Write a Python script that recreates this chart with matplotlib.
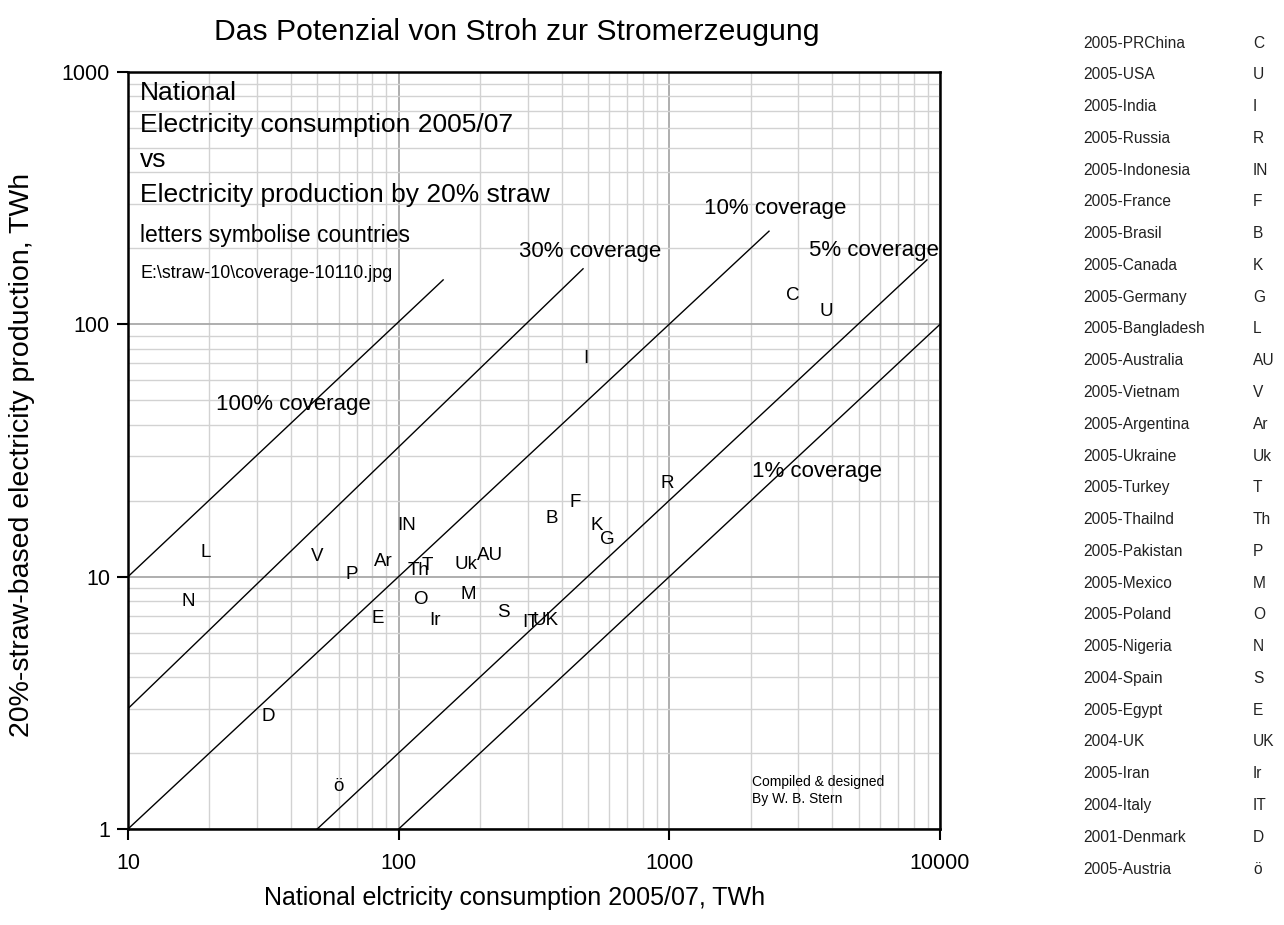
import matplotlib
matplotlib.use("Agg")
import matplotlib.pyplot as plt
from matplotlib.ticker import LogLocator, FixedLocator, FixedFormatter, NullFormatter

plt.rcParams['font.family'] = ['Liberation Sans', 'DejaVu Sans']

# ---- data ----
codes = ["C", "U", "I", "R", "IN", "F", "B", "K", "G", "L", "AU", "V", "Ar", "Uk",
         "T", "Th", "P", "M", "O", "N", "S", "E", "UK", "Ir", "IT", "D", "ö"]
countries = ["2005-PRChina", "2005-USA", "2005-India", "2005-Russia", "2005-Indonesia",
             "2005-France", "2005-Brasil", "2005-Canada", "2005-Germany", "2005-Bangladesh",
             "2005-Australia", "2005-Vietnam", "2005-Argentina", "2005-Ukraine", "2005-Turkey",
             "2005-Thailnd", "2005-Pakistan", "2005-Mexico", "2005-Poland", "2005-Nigeria",
             "2004-Spain", "2005-Egypt", "2004-UK", "2005-Iran", "2004-Italy",
             "2001-Denmark", "2005-Austria"]
table_codes = ["C", "U", "I", "R", "IN", "F", "B", "K", "G", "L", "AU", "V", "Ar", "Uk",
               "T", "Th", "P", "M", "O", "N", "S", "E", "UK", "Ir", "IT", "D", "ö"]
consumption = [2860, 3800, 490, 980, 107, 448, 369, 541, 589, 19.3, 217, 50, 88, 177,
               128, 118, 67, 180, 120, 16.7, 243, 84, 350, 136, 306, 33, 60]
straw_prod = [130, 112, 73, 23.3, 15.9, 19.6, 17.0, 16.0, 14.1, 12.5, 12.1, 12.0, 11.5, 11.2,
              11.1, 10.6, 10.2, 8.5, 8.1, 8.0, 7.2, 6.8, 6.7, 6.7, 6.6, 2.8, 1.47]

# coverage lines (end points)
cov_labels = ["100% coverage", "30% coverage", "10% coverage", "5% coverage", "1% coverage"]
cov_x0 = [10, 10, 10, 50, 100]
cov_y0 = [10, 3, 1, 1, 1]
cov_x1 = [146, 480, 2335, 8950, 10000]
cov_y1 = [150, 166, 234, 180, 100]
cov_label_x = [40.7, 509, 2457, 5705, 3513]
cov_label_y = [47.9, 195, 289, 197, 26.0]

xticks = [10, 100, 1000, 10000]
yticks = [1, 10, 100, 1000]

# ---- figure ----
W, H = 1284, 925
fig = plt.figure(figsize=(W / 100, H / 100), dpi=100)
ax = fig.add_axes([128 / W, 96 / H, 812 / W, 757 / H])
ax.set_xscale('log')
ax.set_yscale('log')
ax.set_xlim(10, 10000)
ax.set_ylim(1, 1000)

ax.xaxis.set_major_locator(FixedLocator(xticks))
ax.xaxis.set_major_formatter(FixedFormatter([str(v) for v in xticks]))
ax.yaxis.set_major_locator(FixedLocator(yticks))
ax.yaxis.set_major_formatter(FixedFormatter([str(v) for v in yticks]))
ax.xaxis.set_minor_locator(LogLocator(base=10, subs=range(2, 10)))
ax.yaxis.set_minor_locator(LogLocator(base=10, subs=range(2, 10)))
ax.xaxis.set_minor_formatter(NullFormatter())
ax.yaxis.set_minor_formatter(NullFormatter())
ax.tick_params(which='major', direction='out', length=8, width=1.5, labelsize=15.5, pad=5, colors='black')
ax.tick_params(axis='x', which='major', pad=9)
ax.tick_params(which='minor', length=0)
ax.grid(which='major', color='#a8a8a8', linewidth=1.3)
ax.grid(which='minor', color='#d2d2d2', linewidth=1.0)
ax.set_axisbelow(True)
for s in ax.spines.values():
    s.set_linewidth(1.8)
    s.set_color('black')

for x0, y0, x1, y1, lab, lx, ly in zip(cov_x0, cov_y0, cov_x1, cov_y1, cov_labels,
                                       cov_label_x, cov_label_y):
    ax.plot([x0, x1], [y0, y1], color='black', linewidth=1.0)
    ax.text(lx, ly, lab, fontsize=16, ha='center', va='center', color='black')

# country letters
for c, x, y in zip(codes, consumption, straw_prod):
    ax.text(x, y, c, fontsize=13.5, ha='center', va='center', color='black')

# info block
info = [("National", 19, 93), ("Electricity consumption 2005/07", 19, 125), ("vs", 19, 160),
        ("Electricity production by 20% straw", 19, 195), ("letters symbolise countries", 16.5, 235),
        ("E:\\straw-10\\coverage-10110.jpg", 12.9, 273)]
for t, fs, py in info:
    fig.text(140 / W, 1 - py / H, t, fontsize=fs, ha='left', va='center')

fig.text(752 / W, 1 - 782 / H, "Compiled & designed", fontsize=10, ha='left', va='center')
fig.text(752 / W, 1 - 799 / H, "By W. B. Stern", fontsize=10, ha='left', va='center')

# titles
fig.text(517 / W, 1 - 32 / H, "Das Potenzial von Stroh zur Stromerzeugung", fontsize=21.7,
         ha='center', va='center')
fig.text(515 / W, 1 - 898 / H, "National elctricity consumption 2005/07, TWh", fontsize=18,
         ha='center', va='center')
fig.text(22 / W, 1 - 455 / H, "20%-straw-based electricity production, TWh", fontsize=20.5,
         ha='center', va='center', rotation=90)

# side table
for i, (name, code) in enumerate(zip(countries, table_codes)):
    py = 43 + i * 31.77
    fig.text(1083 / W, 1 - py / H, name, fontsize=11.2, ha='left', va='center', color='#222222')
    fig.text(1253 / W, 1 - py / H, code, fontsize=11.2, ha='left', va='center', color='#222222')

fig.savefig("out.png", dpi=100)
